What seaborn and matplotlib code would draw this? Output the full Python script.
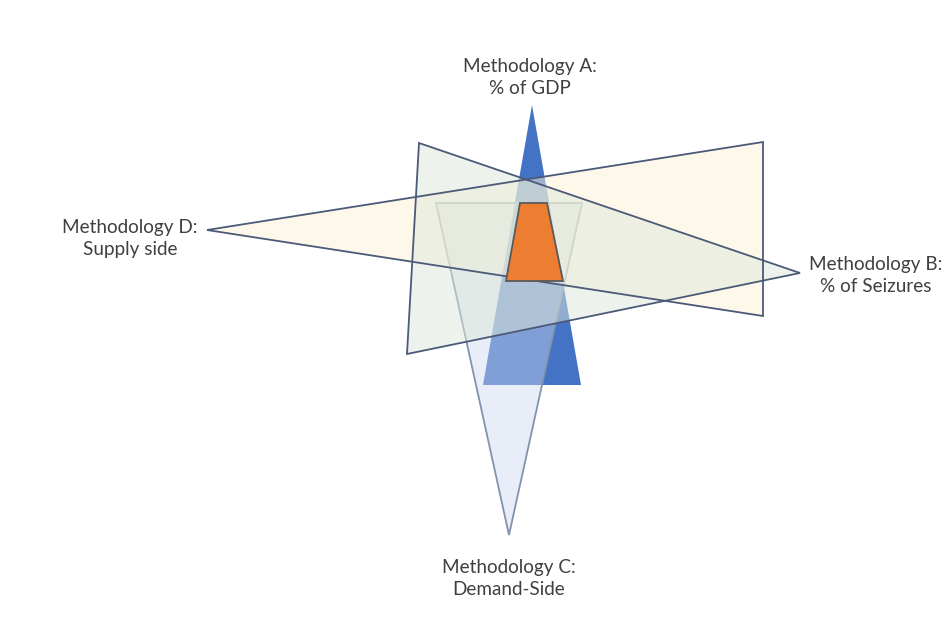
import matplotlib
matplotlib.use("Agg")
import matplotlib.pyplot as plt
import seaborn as sns

sns.set_theme(style="white")
plt.rcParams["font.family"] = ["Lato", "DejaVu Sans"]

# Vertices (x, y) of each methodology shape; y grows downward on this canvas
gdp_x = [532, 581, 483]
gdp_y = [105, 385, 385]
seizures_x = [419, 800, 407]
seizures_y = [143, 273, 354]
supply_x = [207, 763, 763]
supply_y = [230, 142, 316]
demand_x = [436, 582, 509]
demand_y = [203, 203, 535]
overlap_x = [520, 547, 563, 506]
overlap_y = [203, 203, 281, 281]

labels = [
    "Methodology A:\n% of GDP",
    "Methodology B:\n% of Seizures",
    "Methodology C:\nDemand-Side",
    "Methodology D:\nSupply side",
]

fig = plt.figure(figsize=(9.51, 6.26), dpi=100)
ax = fig.add_axes([0, 0, 1, 1])
ax.set_xlim(0, 951)
ax.set_ylim(626, 0)
ax.set_axis_off()

edge_dark = "#4b5a78"

# Methodology A: solid blue wedge at the bottom of the stack
ax.fill(gdp_x, gdp_y, color="#4472c4", lw=0, zorder=1)

# Methodology C: translucent inverted wedge
ax.fill(demand_x, demand_y, facecolor="#cdd8f0", alpha=0.45,
        edgecolor="none", zorder=2)
ax.fill(demand_x, demand_y, facecolor="none", edgecolor="#8193ad",
        lw=1.3, zorder=2)

# Methodology D and B: translucent triangles
ax.fill(supply_x, supply_y, facecolor="#fcf2d4", alpha=0.5,
        edgecolor="none", zorder=3)
ax.fill(seizures_x, seizures_y, facecolor="#dde8da", alpha=0.5,
        edgecolor="none", zorder=4)
ax.fill(supply_x, supply_y, facecolor="none", edgecolor=edge_dark,
        lw=1.3, zorder=5)
ax.fill(seizures_x, seizures_y, facecolor="none", edgecolor=edge_dark,
        lw=1.3, zorder=5)

# Area where all methodologies agree
ax.fill(overlap_x, overlap_y, facecolor="#ed7d31", edgecolor="#5a5a5a",
        lw=1.3, zorder=6)

label_pos = [(530, 77.5), (876, 275.5), (509, 578.5), (130, 238.5)]
for text, (lx, ly) in zip(labels, label_pos):
    ax.text(lx, ly, text, ha="center", va="center", fontsize=13.6,
            color="#404040", linespacing=1.3, zorder=7)

fig.savefig("out.png", dpi=100, facecolor="white")
